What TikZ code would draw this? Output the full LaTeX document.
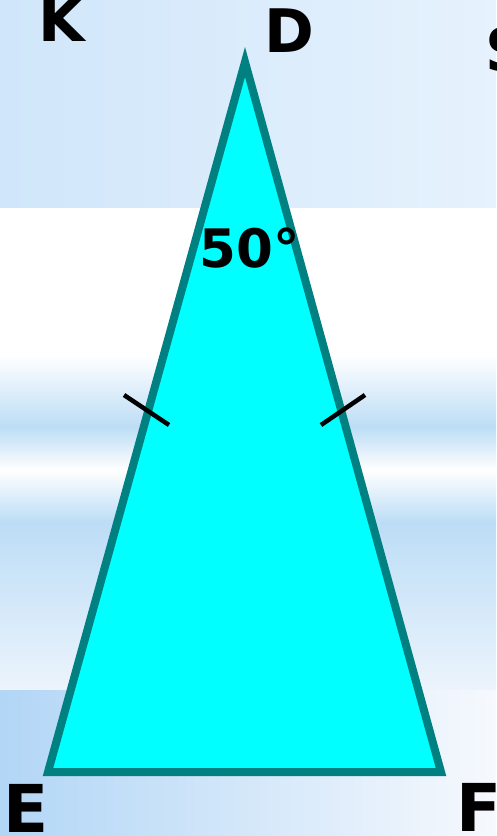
\documentclass[tikz,border=0pt]{standalone}
\usepackage{fontspec}
\setmainfont{DejaVu Sans}
\usepackage{tikz}
\usetikzlibrary{calc}
\definecolor{tealedge}{RGB}{0,128,128}
\definecolor{cyanface}{RGB}{0,255,255}
\definecolor{skyL}{RGB}{208,230,250}
\definecolor{skyR}{RGB}{230,242,253}
\definecolor{stripe}{RGB}{188,221,246}
\definecolor{paleblue}{RGB}{236,244,252}
\definecolor{footL}{RGB}{178,214,246}
\definecolor{footR}{RGB}{246,249,253}
\tikzset{
  tri/.style={draw=tealedge,fill=cyanface,line width=8pt,line join=miter},
  tick/.style={draw=black,line width=4.5pt},
  vlb/.style={inner sep=0pt,font=\bfseries\fontsize{60}{60}\selectfont},
  blb/.style={inner sep=0pt,font=\bfseries\fontsize{66}{66}\selectfont},
  ang/.style={inner sep=0pt,font=\bfseries\fontsize{53}{53}\selectfont},
}
\begin{document}
\begin{tikzpicture}[x=1pt,y=-1pt]
\useasboundingbox (0,0) rectangle (496,836);
% backdrop: a sky band on top, white and blue stripes, a band at the foot
\shade[left color=skyL,right color=skyR] (0,0) rectangle (496,208);
\fill[white] (0,208) rectangle (496,355);
\shade[top color=white,bottom color=stripe] (0,355) rectangle (496,427);
\shade[top color=stripe,bottom color=white] (0,427) rectangle (496,470);
\shade[top color=white,bottom color=stripe] (0,470) rectangle (496,522);
\shade[top color=stripe,bottom color=paleblue] (0,522) rectangle (496,690);
\shade[left color=footL,right color=footR] (0,690) rectangle (496,836);
% the triangle
\coordinate (D) at (245,62);
\coordinate (E) at (48,772);
\coordinate (F) at (441,772);
\draw[tri] (D) -- (E) -- (F) -- cycle;
% equal sides
\coordinate (tl1) at (124,395);
\coordinate (tl2) at (169,425);
\coordinate (tr1) at (321,425);
\coordinate (tr2) at (365,395);
\draw[tick] (tl1) -- (tl2);
\draw[tick] (tr1) -- (tr2);
% labels
\node[vlb] (labK) at (62,20) {K};
\node[vlb] (labD) at (289,31) {D};
\node[vlb] (labS) at (507,50) {S};
\node[ang] (labA) at (250,248) {50°};
\node[blb] (labE) at (26.5,808) {E};
\node[blb] (labF) at (479,807.5) {F};
\end{tikzpicture}
\end{document}
